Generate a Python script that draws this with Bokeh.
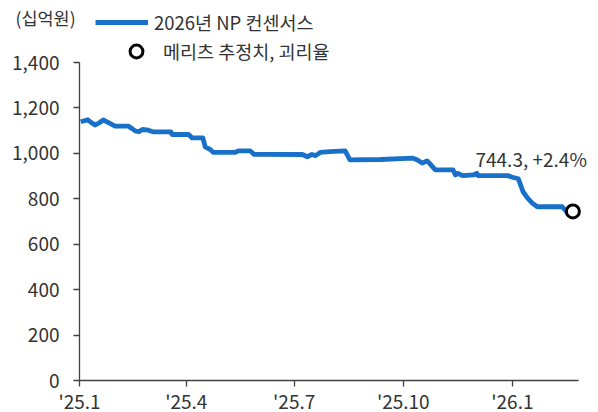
import pandas as pd
from bokeh.plotting import figure
from bokeh.models import (Range1d, FixedTicker, NumeralTickFormatter, Legend, LegendItem,
                          Label, ColumnDataSource)
from bokeh.embed import file_html
from bokeh.resources import INLINE

# ---- data ----
dates = ["2025-01-02", "2025-01-08", "2025-01-10", "2025-01-14", "2025-01-17", "2025-01-21",
         "2025-01-25", "2025-01-31", "2025-02-11", "2025-02-14", "2025-02-17", "2025-02-20",
         "2025-02-23", "2025-02-28", "2025-03-04", "2025-03-19", "2025-03-20", "2025-04-03",
         "2025-04-06", "2025-04-15", "2025-04-17", "2025-04-21", "2025-04-24", "2025-05-12",
         "2025-05-15", "2025-05-25", "2025-05-28", "2025-07-08", "2025-07-12", "2025-07-16",
         "2025-07-19", "2025-07-23", "2025-07-31", "2025-08-13", "2025-08-17", "2025-09-12",
         "2025-10-09", "2025-10-13", "2025-10-17", "2025-10-21", "2025-10-23", "2025-10-28",
         "2025-11-12", "2025-11-14", "2025-11-16", "2025-11-20", "2025-11-29", "2025-12-02",
         "2025-12-03", "2025-12-28", "2026-01-01", "2026-01-06", "2026-01-10", "2026-01-14",
         "2026-01-18", "2026-01-22", "2026-02-12", "2026-02-17", "2026-02-21"]
consensus = [1139, 1148, 1139, 1125, 1132, 1147,
             1136, 1120, 1120, 1110, 1099, 1095,
             1105, 1102, 1095, 1095, 1083, 1083,
             1068, 1068, 1029, 1018, 1004, 1004,
             1011, 1011, 996, 995, 985, 995,
             990, 1004, 1008, 1011, 971, 973,
             979, 971, 957, 967, 957, 927,
             927, 905, 912, 902, 905, 912,
             902, 902, 895, 888, 831, 802,
             780, 765, 765, 736, 728]
meritz_date = ["2026-02-21"]
meritz_value = [744.3]
meritz_label = "744.3, +2.4%"

x_ticks = ["2025-01-01", "2025-04-01", "2025-07-01", "2025-10-01", "2026-01-01"]
x_tick_labels = ["'25.1", "'25.4", "'25.7", "'25.10", "'26.1"]
x_axis_end = "2026-02-26"
y_ticks = [0, 200, 400, 600, 800, 1000, 1200, 1400]
y_max = 1400
unit_label = "(십억원)"
legend_line = "2026년 NP 컨센서스"
legend_marker = "메리츠 추정치, 괴리율"

FONT = "Noto Sans CJK KR"
TXT = "#333333"
AX = "#404040"
BLUE = "#1870c9"

DAY = 86400000.0


def ms(d):
    return pd.Timestamp(d).value / 1e6


# layout geometry (pixels): axis origin at (79, 380); 1400 at y=62; 1.186 px/day
W, H = 598, 412
X0, Y0, YTOP = 79, 380, 62
PX_DAY = 1.186
px_val = (Y0 - YTOP) / y_max
x_start = ms(x_ticks[0]) - X0 / PX_DAY * DAY
x_end = ms(x_ticks[0]) + (W - X0) / PX_DAY * DAY
y_start = -(H - Y0) / px_val
y_end = Y0 / px_val

src = ColumnDataSource(dict(x=[ms(d) for d in dates], y=consensus))
msrc = ColumnDataSource(dict(x=[ms(d) for d in meritz_date], y=meritz_value))

p = figure(width=W, height=H, output_backend="svg", toolbar_location=None,
           x_axis_type="datetime",
           x_range=Range1d(x_start, x_end), y_range=Range1d(y_start, y_end),
           min_border=0)
p.outline_line_color = None
p.grid.visible = False
p.background_fill_color = "white"
p.border_fill_color = "white"

# axes, drawn inside the frame at fixed positions
p.xaxis.fixed_location = 0
p.xaxis.bounds = (ms(x_ticks[0]), ms(x_axis_end))
p.yaxis.fixed_location = ms(x_ticks[0])
p.yaxis.bounds = (0, y_max)
p.xaxis.ticker = FixedTicker(ticks=[ms(d) for d in x_ticks])
p.xaxis.major_label_overrides = {ms(d): l for d, l in zip(x_ticks, x_tick_labels)}
p.yaxis.ticker = FixedTicker(ticks=y_ticks)
p.yaxis.formatter = NumeralTickFormatter(format="0,0")
for ax in (p.xaxis[0], p.yaxis[0]):
    ax.axis_line_color = AX
    ax.axis_line_width = 1.3
    ax.major_tick_line_color = AX
    ax.major_tick_line_width = 1.3
    ax.major_tick_in = 0
    ax.major_tick_out = 6
    ax.minor_tick_line_color = None
    ax.major_label_text_font = FONT
    ax.major_label_text_font_size = "19px"
    ax.major_label_text_color = TXT
p.yaxis.major_label_standoff = 14
p.xaxis.major_label_standoff = 0

r_line = p.line("x", "y", source=src, line_color=BLUE, line_width=4.8, line_join="round")
r_mark = p.scatter("x", "y", source=msrc, size=13, marker="circle", fill_color="white",
                   line_color="black", line_width=3)

p.add_layout(Label(x=ms(meritz_date[0]), y=meritz_value[0], text=meritz_label,
                   text_align="right", text_baseline="middle", x_offset=14, y_offset=53,
                   text_font=FONT, text_font_size="19px", text_color=TXT))

leg1 = Legend(items=[LegendItem(label=legend_line, renderers=[r_line])],
              location=(95, 377), glyph_width=53, glyph_height=20, label_standoff=6)
leg2 = Legend(items=[LegendItem(label=legend_marker, renderers=[r_mark])],
              location=(120, 345), glyph_width=32, glyph_height=32, label_standoff=11)
for lg in (leg1, leg2):
    lg.padding = 0
    lg.margin = 0
    lg.border_line_alpha = 0
    lg.background_fill_alpha = 0
    lg.label_text_font = FONT
    lg.label_text_font_size = "18.5px"
    lg.label_text_color = TXT
    p.add_layout(lg)

p.add_layout(Label(x=ms(x_ticks[0]), y=y_max, text=unit_label, x_offset=-64, y_offset=45,
                   text_baseline="middle", text_font=FONT, text_font_size="17.5px",
                   text_color=TXT))

open("out.html", "w").write(file_html(p, INLINE))
